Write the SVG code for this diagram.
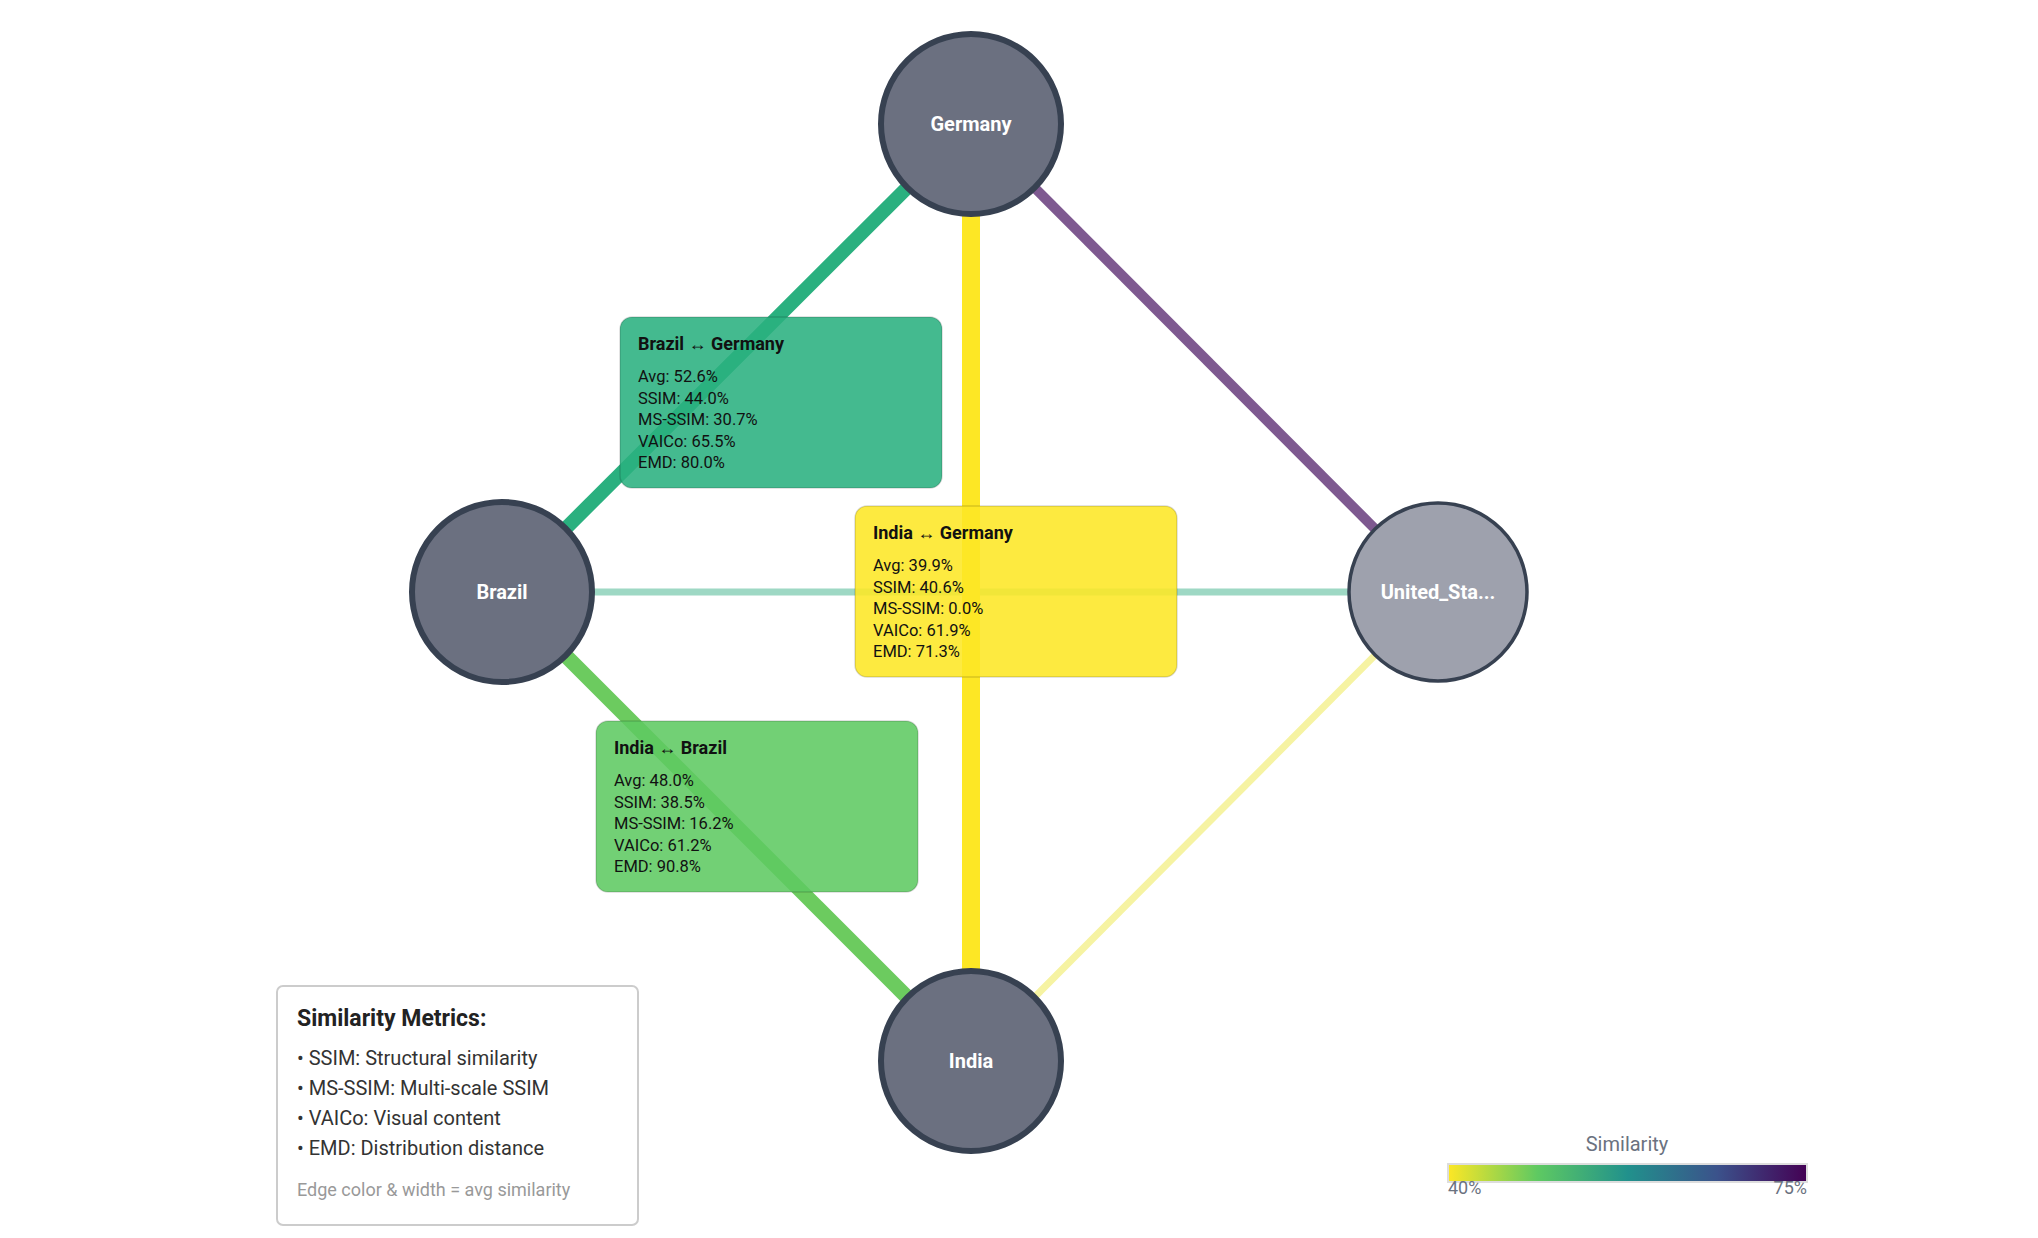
<svg xmlns="http://www.w3.org/2000/svg" width="2038" height="1238" viewBox="0 0 2038 1238">
<defs>
<linearGradient id="vir" x1="0" x2="1" y1="0" y2="0">
<stop offset="0" stop-color="#fde725"/><stop offset="0.25" stop-color="#5ec962"/><stop offset="0.5" stop-color="#21918c"/><stop offset="0.75" stop-color="#3b528b"/><stop offset="1" stop-color="#440154"/>
</linearGradient>
</defs>
<style>
text{font-family:Roboto,"Liberation Sans",sans-serif}
.node circle{stroke:#374151;stroke-width:6}
.nl{fill:#fff;font-size:20px;font-weight:bold;text-anchor:middle}
.box rect{stroke:#000;stroke-opacity:0.15;stroke-width:1.5}
.bt{font-size:18px;font-weight:bold;fill:#111}
.bl{font-size:16.5px;fill:#111}
.lg{font-size:20px;fill:#333}
</style>
<rect width="2038" height="1238" fill="#fff"/>
<g id="edges" stroke-linecap="butt">
<line x1="502" y1="592" x2="1438" y2="592" stroke="#9ed8c4" stroke-width="7"/>
<line x1="971" y1="1061" x2="1438" y2="592" stroke="#f6f3a2" stroke-width="7"/>
<line x1="971" y1="124" x2="1438" y2="592" stroke="#7e5990" stroke-width="10"/>
<line x1="502" y1="592" x2="971" y2="124" stroke="#2ab07f" stroke-width="14"/>
<line x1="502" y1="592" x2="971" y2="1061" stroke="#6ccb5f" stroke-width="15"/>
<line x1="971" y1="124" x2="971" y2="1061" stroke="#fde725" stroke-width="18"/>
</g>
<g id="Germany" class="node"><circle cx="971" cy="124" r="90" fill="#6b7080"/><text class="nl" x="971" y="131">Germany</text></g>
<g id="Brazil" class="node"><circle cx="502" cy="592" r="90" fill="#6b7080"/><text class="nl" x="502" y="599">Brazil</text></g>
<g id="United_States" class="node"><circle cx="1438" cy="592" r="89" fill="#9ea1ad" style="stroke-width:3.5"/><text class="nl" x="1438" y="599">United_Sta...</text></g>
<g id="India" class="node"><circle cx="971" cy="1061" r="90" fill="#6b7080"/><text class="nl" x="971" y="1068">India</text></g>
<g id="label-brazil-germany" class="box">
<rect x="620" y="317" width="322" height="171" rx="12" fill="#2ab07f" fill-opacity="0.88"/>
<text class="bt" x="638" y="350">Brazil ↔ Germany</text>
<text class="bl" x="638" y="382">Avg: 52.6%</text><text class="bl" x="638" y="404">SSIM: 44.0%</text><text class="bl" x="638" y="425">MS-SSIM: 30.7%</text><text class="bl" x="638" y="447">VAICo: 65.5%</text><text class="bl" x="638" y="468">EMD: 80.0%</text>
</g>
<g id="label-india-germany" class="box">
<rect x="855" y="506" width="322" height="171" rx="12" fill="#fde725" fill-opacity="0.88"/>
<text class="bt" x="873" y="539">India ↔ Germany</text>
<text class="bl" x="873" y="571">Avg: 39.9%</text><text class="bl" x="873" y="593">SSIM: 40.6%</text><text class="bl" x="873" y="614">MS-SSIM: 0.0%</text><text class="bl" x="873" y="636">VAICo: 61.9%</text><text class="bl" x="873" y="657">EMD: 71.3%</text>
</g>
<g id="label-india-brazil" class="box">
<rect x="596" y="721" width="322" height="171" rx="12" fill="#5ec962" fill-opacity="0.88"/>
<text class="bt" x="614" y="754">India ↔ Brazil</text>
<text class="bl" x="614" y="786">Avg: 48.0%</text><text class="bl" x="614" y="808">SSIM: 38.5%</text><text class="bl" x="614" y="829">MS-SSIM: 16.2%</text><text class="bl" x="614" y="851">VAICo: 61.2%</text><text class="bl" x="614" y="872">EMD: 90.8%</text>
</g>
<g id="legend">
<rect x="277" y="986" width="361" height="239" rx="6" fill="#fff" stroke="#ccc" stroke-width="2"/>
<text x="297" y="1026" font-size="23" font-weight="bold" fill="#222">Similarity Metrics:</text>
<text class="lg" x="297" y="1065">• SSIM: Structural similarity</text>
<text class="lg" x="297" y="1095">• MS-SSIM: Multi-scale SSIM</text>
<text class="lg" x="297" y="1125">• VAICo: Visual content</text>
<text class="lg" x="297" y="1155">• EMD: Distribution distance</text>
<text x="297" y="1196" font-size="18" fill="#999">Edge color &amp; width = avg similarity</text>
</g>
<g id="colorbar">
<text x="1627" y="1151" font-size="20" fill="#6b7280" text-anchor="middle">Similarity</text>
<rect x="1448" y="1164" width="359" height="18" fill="url(#vir)" stroke="#ddd" stroke-width="2"/>
<text x="1448" y="1194" font-size="18" fill="#6b7280">40%</text>
<text x="1807" y="1194" font-size="18" fill="#6b7280" text-anchor="end">75%</text>
</g>
</svg>
